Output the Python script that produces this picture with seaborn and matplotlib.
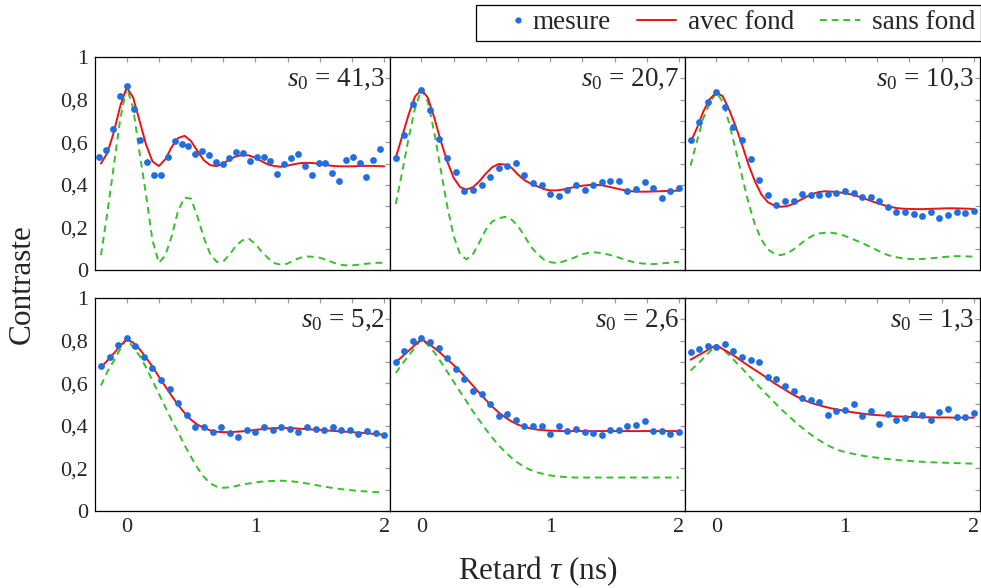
import matplotlib
matplotlib.use("Agg")
import matplotlib.pyplot as plt
import seaborn as sns
import pandas as pd
from matplotlib.lines import Line2D
from matplotlib.legend_handler import HandlerLine2D

# ---- data ---------------------------------------------------------------
s0_labels = ["41,3", "20,7", "10,3", "5,2", "2,6", "1,3"]

# delays of the measured points (ns); the s0 = 41,3 run has a finer step
tau_413 = [-0.213, -0.160, -0.106, -0.053, 0.0, 0.053, 0.106, 0.160, 0.213, 0.266,
           0.319, 0.372, 0.426, 0.479, 0.532, 0.585, 0.638, 0.692, 0.745, 0.798,
           0.851, 0.904, 0.958, 1.011, 1.064, 1.117, 1.170, 1.224, 1.277, 1.330,
           1.383, 1.436, 1.490, 1.543, 1.596, 1.649, 1.702, 1.756, 1.809, 1.862,
           1.915, 1.968]
tau_meas = [-0.2, -0.133, -0.067, 0.0, 0.067, 0.133, 0.2, 0.267, 0.333, 0.4,
            0.467, 0.533, 0.6, 0.667, 0.733, 0.8, 0.867, 0.933, 1.0, 1.067,
            1.133, 1.2, 1.267, 1.333, 1.4, 1.467, 1.533, 1.6, 1.667, 1.733,
            1.8, 1.867, 1.933, 2.0]
# delays where the fitted curves were read
tau_fit = [-0.2, -0.15, -0.1, -0.05, 0.0, 0.05, 0.1, 0.15, 0.2, 0.25,
           0.3, 0.35, 0.4, 0.45, 0.5, 0.55, 0.6, 0.65, 0.7, 0.75,
           0.8, 0.85, 0.9, 0.95, 1.0, 1.05, 1.1, 1.15, 1.2, 1.25,
           1.3, 1.35, 1.4, 1.45, 1.5, 1.55, 1.6, 1.65, 1.7, 1.75,
           1.8, 1.85, 1.9, 1.95, 2.0]

mesure_413 = [0.529, 0.565, 0.662, 0.816, 0.863, 0.758, 0.612, 0.507, 0.445, 0.445,
              0.529, 0.607, 0.593, 0.584, 0.547, 0.560, 0.541, 0.505, 0.499, 0.524,
              0.552, 0.549, 0.513, 0.533, 0.530, 0.513, 0.449, 0.500, 0.525, 0.543,
              0.489, 0.447, 0.502, 0.502, 0.455, 0.417, 0.516, 0.533, 0.502, 0.439,
              0.515, 0.568]
mesure_207 = [0.526, 0.635, 0.781, 0.844, 0.750, 0.615, 0.526, 0.460, 0.369, 0.376,
              0.397, 0.436, 0.478, 0.489, 0.502, 0.447, 0.411, 0.400, 0.356, 0.348,
              0.376, 0.397, 0.375, 0.398, 0.413, 0.416, 0.420, 0.369, 0.380, 0.414,
              0.386, 0.340, 0.369, 0.387]
mesure_103 = [0.609, 0.693, 0.789, 0.835, 0.766, 0.673, 0.612, 0.522, 0.424, 0.351,
              0.304, 0.326, 0.323, 0.355, 0.351, 0.351, 0.356, 0.361, 0.370, 0.364,
              0.345, 0.345, 0.326, 0.298, 0.271, 0.271, 0.262, 0.256, 0.273, 0.246,
              0.259, 0.273, 0.267, 0.276]
mesure_52 = [0.679, 0.724, 0.780, 0.810, 0.773, 0.721, 0.670, 0.617, 0.573, 0.508,
             0.449, 0.394, 0.394, 0.371, 0.394, 0.366, 0.347, 0.382, 0.371, 0.394,
             0.379, 0.394, 0.386, 0.371, 0.394, 0.386, 0.382, 0.394, 0.382, 0.379,
             0.363, 0.375, 0.366, 0.355]
mesure_26 = [0.698, 0.752, 0.796, 0.812, 0.791, 0.763, 0.718, 0.667, 0.620, 0.562,
             0.547, 0.503, 0.444, 0.456, 0.428, 0.399, 0.399, 0.397, 0.361, 0.397,
             0.375, 0.386, 0.371, 0.368, 0.357, 0.382, 0.382, 0.399, 0.405, 0.421,
             0.375, 0.377, 0.363, 0.371]
mesure_13 = [0.748, 0.760, 0.773, 0.768, 0.783, 0.752, 0.721, 0.709, 0.698, 0.628,
             0.620, 0.586, 0.565, 0.530, 0.522, 0.511, 0.452, 0.467, 0.472, 0.503,
             0.444, 0.469, 0.408, 0.456, 0.425, 0.438, 0.456, 0.452, 0.425, 0.464,
             0.477, 0.442, 0.442, 0.461]

avec_413 = [0.500, 0.550, 0.647, 0.770, 0.858, 0.810, 0.700, 0.590, 0.510, 0.488,
            0.520, 0.578, 0.620, 0.630, 0.605, 0.558, 0.515, 0.492, 0.488, 0.500,
            0.520, 0.534, 0.540, 0.538, 0.527, 0.510, 0.495, 0.488, 0.485, 0.490,
            0.497, 0.502, 0.503, 0.502, 0.498, 0.493, 0.489, 0.487, 0.487, 0.487,
            0.488, 0.489, 0.489, 0.488, 0.487]
sans_413 = [0.070, 0.270, 0.490, 0.710, 0.858, 0.760, 0.550, 0.355, 0.140, 0.034,
            0.069, 0.160, 0.280, 0.340, 0.335, 0.250, 0.150, 0.073, 0.038, 0.040,
            0.073, 0.115, 0.140, 0.147, 0.122, 0.085, 0.055, 0.032, 0.025, 0.030,
            0.047, 0.058, 0.064, 0.062, 0.058, 0.048, 0.036, 0.026, 0.022, 0.022,
            0.025, 0.029, 0.032, 0.034, 0.034]
avec_207 = [0.527, 0.628, 0.730, 0.815, 0.847, 0.808, 0.714, 0.605, 0.510, 0.433,
            0.389, 0.378, 0.389, 0.417, 0.453, 0.483, 0.498, 0.495, 0.480, 0.448,
            0.422, 0.405, 0.393, 0.380, 0.374, 0.374, 0.378, 0.385, 0.391, 0.396,
            0.399, 0.400, 0.398, 0.392, 0.385, 0.378, 0.372, 0.369, 0.368, 0.368,
            0.369, 0.370, 0.371, 0.372, 0.373]
sans_207 = [0.310, 0.460, 0.620, 0.760, 0.847, 0.790, 0.644, 0.470, 0.300, 0.160,
            0.073, 0.050, 0.075, 0.130, 0.190, 0.228, 0.243, 0.250, 0.237, 0.206,
            0.160, 0.110, 0.075, 0.050, 0.037, 0.033, 0.040, 0.050, 0.062, 0.074,
            0.081, 0.083, 0.080, 0.073, 0.065, 0.055, 0.045, 0.037, 0.032, 0.029,
            0.028, 0.030, 0.033, 0.036, 0.039]
avec_103 = [0.600, 0.667, 0.745, 0.803, 0.834, 0.816, 0.753, 0.675, 0.589, 0.495,
            0.417, 0.355, 0.319, 0.303, 0.297, 0.300, 0.311, 0.328, 0.344, 0.358,
            0.367, 0.370, 0.368, 0.365, 0.361, 0.355, 0.346, 0.336, 0.325, 0.314,
            0.305, 0.297, 0.291, 0.288, 0.287, 0.286, 0.286, 0.287, 0.288, 0.289,
            0.290, 0.290, 0.289, 0.288, 0.287]
sans_103 = [0.490, 0.605, 0.714, 0.784, 0.834, 0.790, 0.690, 0.566, 0.440, 0.316,
            0.214, 0.144, 0.097, 0.077, 0.070, 0.078, 0.097, 0.120, 0.144, 0.162,
            0.172, 0.175, 0.175, 0.170, 0.160, 0.148, 0.135, 0.122, 0.108, 0.093,
            0.078, 0.067, 0.060, 0.055, 0.052, 0.051, 0.052, 0.054, 0.057, 0.060,
            0.063, 0.065, 0.065, 0.064, 0.063]
avec_52 = [0.674, 0.706, 0.740, 0.775, 0.807, 0.790, 0.760, 0.720, 0.678, 0.630,
           0.585, 0.540, 0.497, 0.460, 0.428, 0.405, 0.390, 0.378, 0.372, 0.370,
           0.370, 0.372, 0.374, 0.377, 0.381, 0.384, 0.387, 0.389, 0.389, 0.389,
           0.388, 0.386, 0.384, 0.382, 0.380, 0.378, 0.376, 0.374, 0.372, 0.370,
           0.368, 0.366, 0.363, 0.360, 0.358]
sans_52 = [0.589, 0.654, 0.705, 0.760, 0.807, 0.768, 0.729, 0.674, 0.612, 0.550,
           0.488, 0.425, 0.370, 0.308, 0.254, 0.202, 0.160, 0.129, 0.114, 0.109,
           0.111, 0.117, 0.125, 0.129, 0.134, 0.138, 0.140, 0.141, 0.142, 0.141,
           0.138, 0.134, 0.129, 0.124, 0.118, 0.113, 0.108, 0.104, 0.100, 0.097,
           0.094, 0.092, 0.090, 0.088, 0.087]
avec_26 = [0.698, 0.725, 0.752, 0.780, 0.807, 0.787, 0.765, 0.740, 0.713, 0.685,
           0.655, 0.622, 0.588, 0.554, 0.521, 0.490, 0.462, 0.440, 0.420, 0.405,
           0.395, 0.387, 0.382, 0.379, 0.377, 0.376, 0.375, 0.375, 0.375, 0.375,
           0.375, 0.375, 0.375, 0.375, 0.375, 0.375, 0.375, 0.375, 0.375, 0.375,
           0.375, 0.375, 0.375, 0.375, 0.375]
sans_26 = [0.648, 0.690, 0.729, 0.768, 0.807, 0.779, 0.745, 0.700, 0.654, 0.607,
           0.560, 0.514, 0.467, 0.425, 0.383, 0.344, 0.308, 0.277, 0.249, 0.226,
           0.206, 0.192, 0.181, 0.173, 0.167, 0.163, 0.160, 0.158, 0.157, 0.157,
           0.157, 0.157, 0.157, 0.157, 0.157, 0.157, 0.157, 0.157, 0.157, 0.157,
           0.157, 0.157, 0.157, 0.157, 0.157]
avec_13 = [0.710, 0.727, 0.744, 0.762, 0.779, 0.760, 0.743, 0.724, 0.702, 0.682,
           0.662, 0.643, 0.622, 0.600, 0.582, 0.563, 0.545, 0.530, 0.516, 0.505,
           0.496, 0.488, 0.481, 0.475, 0.469, 0.464, 0.460, 0.456, 0.452, 0.450,
           0.448, 0.446, 0.444, 0.443, 0.442, 0.441, 0.440, 0.440, 0.439, 0.439,
           0.439, 0.438, 0.438, 0.438, 0.438]
sans_13 = [0.659, 0.687, 0.717, 0.748, 0.779, 0.760, 0.732, 0.700, 0.670, 0.636,
           0.604, 0.573, 0.542, 0.511, 0.480, 0.452, 0.425, 0.399, 0.374, 0.352,
           0.332, 0.313, 0.298, 0.285, 0.277, 0.270, 0.264, 0.258, 0.254, 0.250,
           0.246, 0.243, 0.240, 0.237, 0.235, 0.233, 0.231, 0.229, 0.228, 0.227,
           0.226, 0.225, 0.224, 0.223, 0.222]

xtick_pos = [0, 0.25, 0.5, 0.75, 1, 1.25, 1.5, 1.75, 2]
xtick_labels = ["0", "", "", "", "1", "", "", "", "2"]
ytick_pos = [0, 0.1, 0.2, 0.3, 0.4, 0.5, 0.6, 0.7, 0.8, 0.9, 1.0]
ytick_labels = ["0", "", "0,2", "", "0,4", "", "0,6", "", "0,8", "", "1"]

panels = [
    (tau_413, mesure_413, avec_413, sans_413),
    (tau_meas, mesure_207, avec_207, sans_207),
    (tau_meas, mesure_103, avec_103, sans_103),
    (tau_meas, mesure_52, avec_52, sans_52),
    (tau_meas, mesure_26, avec_26, sans_26),
    (tau_meas, mesure_13, avec_13, sans_13),
]

# ---- style -----------------------------------------------------------------
sns.set_style("white")
plt.rcParams["font.family"] = ["Liberation Serif", "DejaVu Serif"]
plt.rcParams["mathtext.fontset"] = "custom"
plt.rcParams["mathtext.rm"] = "Liberation Serif"
plt.rcParams["mathtext.it"] = "Liberation Serif:italic"

c_mes = "#1f6fe0"
c_avec = "#ee1111"
c_sans = "#36c02a"
dash = (0, (3.5, 2.5))


class DotAtEnd(HandlerLine2D):
    # pgfplots puts the lone marker right before the text
    def get_xdata(self, legend, xdescent, ydescent, width, height, fontsize):
        x1 = -xdescent + width - 0.1 * fontsize
        return [x1 - 4, x1 + 4], [x1]


fig, axes = plt.subplots(2, 3, figsize=(9.81, 5.88), dpi=100, sharex=True, sharey=True)
fig.subplots_adjust(left=0.097, right=0.9985, top=0.903, bottom=0.131,
                    wspace=0, hspace=0.131)

for ax, lab, (tx, mes, avec, sans) in zip(axes.flat, s0_labels, panels):
    df_fit = pd.DataFrame({"tau": tau_fit, "avec": avec, "sans": sans})
    df_mes = pd.DataFrame({"tau": tx, "c": mes})
    sns.lineplot(data=df_fit, x="tau", y="sans", ax=ax, color=c_sans, lw=1.4,
                 linestyle=dash, estimator=None, sort=False)
    sns.lineplot(data=df_fit, x="tau", y="avec", ax=ax, color=c_avec, lw=1.4,
                 estimator=None, sort=False)
    sns.scatterplot(data=df_mes, x="tau", y="c", ax=ax, color=c_mes, s=24,
                    linewidth=0, zorder=5)
    ax.text(0.982, 0.953, "$s_0$ = " + lab, transform=ax.transAxes,
            ha="right", va="top", fontsize=19.5)
    ax.set_xlabel("")
    ax.set_ylabel("")
    for sp in ax.spines.values():
        sp.set_color("black")
        sp.set_linewidth(0.9)
    ax.tick_params(which="both", direction="in", top=True, right=True,
                   length=3.5, width=0.9, color="#9a9a9a", labelsize=16, pad=5)

ax0 = axes[0, 0]
ax0.set_xlim(-0.245, 2.045)
ax0.set_ylim(0, 1)
ax0.set_xticks(xtick_pos)
ax0.set_xticklabels(xtick_labels)
ax0.set_yticks(ytick_pos)
ax0.set_yticklabels(ytick_labels)
for ax in axes.flat:
    ax.label_outer()

fig.text(0.548, 0.029, r"Retard $\tau$ (ns)", ha="center", va="center", fontsize=22.5)
fig.text(0.023, 0.517, "Contraste", ha="center", va="center", rotation=90, fontsize=22.5)

handles = [
    Line2D([], [], marker="o", ls="none", color=c_mes, markersize=4.5, mew=0),
    Line2D([], [], color=c_avec, lw=1.4),
    Line2D([], [], color=c_sans, lw=1.4, ls=dash),
]
leg = fig.legend(handles, ["mesure", "avec fond", "sans fond"], loc="upper right",
                 bbox_to_anchor=(0.9995, 0.992), ncol=3, fontsize=19.5, frameon=True,
                 fancybox=False, edgecolor="black", framealpha=1, handlelength=1.45,
                 handletextpad=0.45, columnspacing=0.95, borderpad=0.2, borderaxespad=0,
                 handler_map={handles[0]: DotAtEnd(numpoints=1)})
leg.get_frame().set_linewidth(0.9)

fig.savefig("out.png", dpi=100)
